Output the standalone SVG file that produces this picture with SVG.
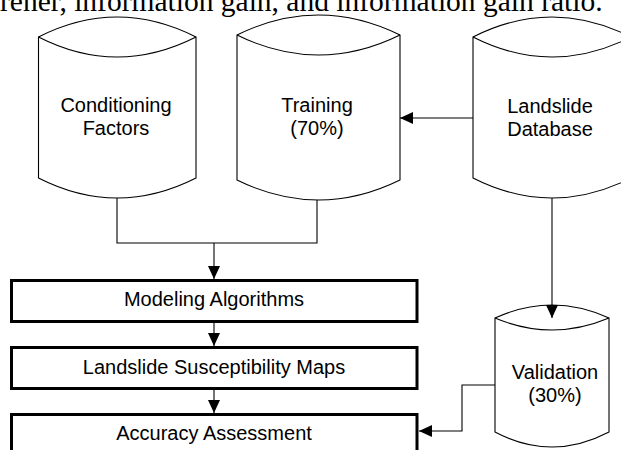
<svg xmlns="http://www.w3.org/2000/svg" width="621" height="450" viewBox="0 0 621 450">
  <style>
    .cyl { fill: #ffffff; stroke: #000000; stroke-width: 1.1; }
    .box { fill: #ffffff; stroke: #000000; stroke-width: 3; }
    .lbl { font-family: "Liberation Sans", Arial, sans-serif; font-size: 20px; fill: #000000; text-anchor: middle; }
    .wire { fill: none; stroke: #000000; stroke-width: 1.1; }
    .cap { font-family: "Liberation Serif", "Times New Roman", serif; font-size: 29.5px; fill: #000000; }
  </style>
  <defs>
    <marker id="head" markerUnits="userSpaceOnUse" markerWidth="13" markerHeight="12" refX="13" refY="6" orient="auto">
      <path d="M0,0 L13,6 L0,12 Z" fill="#000000"/>
    </marker>
  </defs>

  <rect width="621" height="450" fill="#ffffff"/>

  <!-- running text line above the figure -->
  <text class="cap" x="0" y="10.5">rener, information gain, and information gain ratio.</text>

  <!-- data stores -->
  <g id="conditioning-factors">
    <path class="cyl" d="M38.5,37 Q117,-3 196,37 L196,178 Q117,218 38.5,178 Z"/>
    <path class="cyl" d="M38.5,37 Q117,77 196,37" fill="none"/>
    <text class="lbl" x="116" y="111.5">Conditioning</text>
    <text class="lbl" x="116" y="135">Factors</text>
  </g>

  <g id="training">
    <path class="cyl" d="M237,35 Q318.5,-5 400,35 L400,180 Q318.5,220 237,180 Z"/>
    <path class="cyl" d="M237,35 Q318.5,75 400,35" fill="none"/>
    <text class="lbl" x="317" y="112">Training</text>
    <text class="lbl" x="317" y="135">(70%)</text>
  </g>

  <g id="landslide-database">
    <path class="cyl" d="M473,37 Q552,-3 631,37 L631,178 Q552,218 473,178 Z"/>
    <path class="cyl" d="M473,37 Q552,77 631,37" fill="none"/>
    <text class="lbl" x="550" y="113">Landslide</text>
    <text class="lbl" x="550" y="136">Database</text>
  </g>

  <g id="validation">
    <path class="cyl" d="M495,318 Q552,292 609,318 L609,432 Q552,462 495,432 Z"/>
    <path class="cyl" d="M495,318 Q552,342 609,318" fill="none"/>
    <text class="lbl" x="555" y="379">Validation</text>
    <text class="lbl" x="555" y="402">(30%)</text>
  </g>

  <!-- process steps -->
  <g id="modeling-algorithms">
    <rect class="box" x="11.5" y="280.5" width="405.5" height="41"/>
    <text class="lbl" x="214" y="306">Modeling Algorithms</text>
  </g>

  <g id="susceptibility-maps">
    <rect class="box" x="11.5" y="347.5" width="405.5" height="41"/>
    <text class="lbl" x="214" y="374">Landslide Susceptibility Maps</text>
  </g>

  <g id="accuracy-assessment">
    <rect class="box" x="11.5" y="414.5" width="405.5" height="45"/>
    <text class="lbl" x="214" y="440">Accuracy Assessment</text>
  </g>

  <!-- connectors, drawn last so arrowheads sit on top of the shapes -->
  <g id="connectors">
    <polyline class="wire" points="117,198 117,243 317,243 317,200"/>
    <line class="wire" x1="214" y1="243" x2="214" y2="279" marker-end="url(#head)"/>
    <line class="wire" x1="473" y1="118" x2="400" y2="118" marker-end="url(#head)"/>
    <line class="wire" x1="552" y1="198" x2="552" y2="318" marker-end="url(#head)"/>
    <line class="wire" x1="214" y1="322" x2="214" y2="346" marker-end="url(#head)"/>
    <line class="wire" x1="214" y1="389" x2="214" y2="413" marker-end="url(#head)"/>
    <polyline class="wire" points="495,385 462,385 462,431 419,431" marker-end="url(#head)"/>
  </g>
</svg>
